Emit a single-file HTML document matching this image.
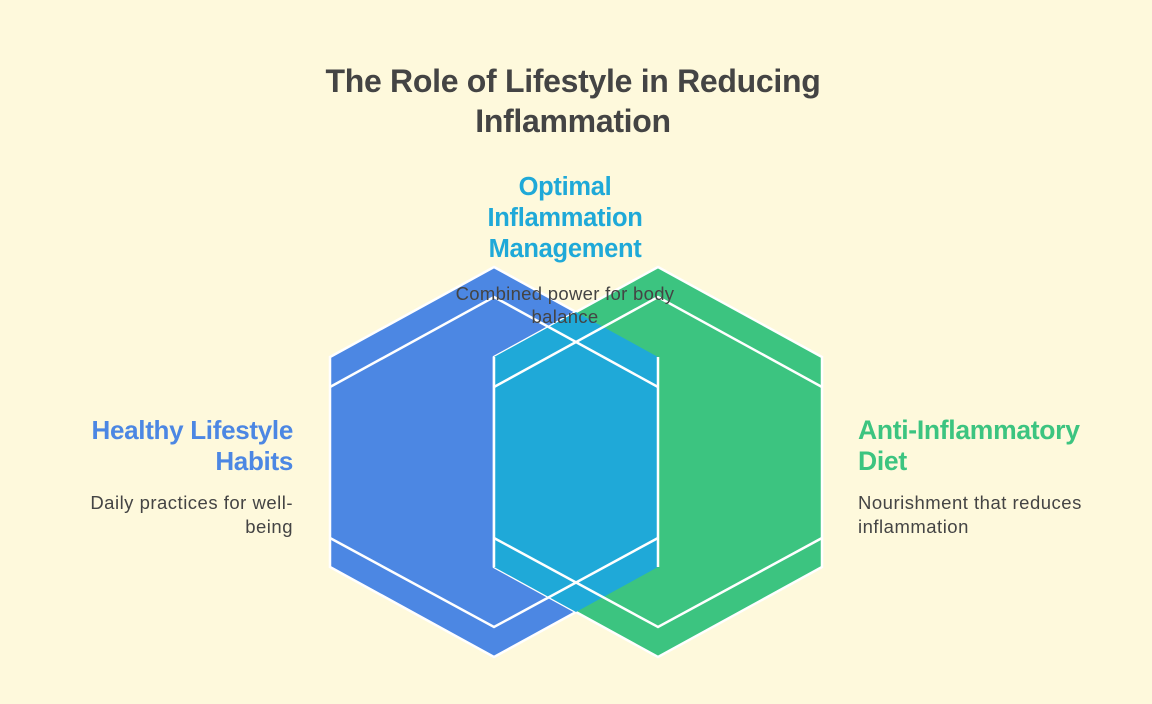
<!DOCTYPE html>
<html><head><style>
body{margin:0;width:1152px;height:704px;background:#FEF9DC;position:relative;overflow:hidden;font-family:"Liberation Sans",sans-serif}
.t{position:absolute;white-space:nowrap}
</style></head><body>
<svg width="1152" height="704" style="position:absolute;left:0;top:0">
<polygon points="494,267 658,357 658,567 494,657 330,567 330,357" fill="#4C87E3" stroke="#fff" stroke-width="2.5"/>
<polygon points="658,267 822,357 822,567 658,657 494,567 494,357" fill="#3CC480" stroke="#fff" stroke-width="2.5"/>
<polygon points="576,312 658,357 658,567 576,612 494,567 494,357" fill="#1FA9D8"/>
<g fill="none" stroke="#fff" stroke-width="2.5">
<polyline points="330,387 494,297 658,387"/>
<polyline points="330,538 494,627 658,538"/>
<polyline points="494,387 658,297 822,387"/>
<polyline points="494,538 658,627 822,538"/>
<line x1="494" y1="357" x2="494" y2="567"/>
<line x1="658" y1="357" x2="658" y2="567"/>
</g>
</svg>
<div class="t" style="left:0;width:1146px;top:61px;text-align:center;font-size:32px;font-weight:bold;color:#444;line-height:40px;letter-spacing:-0.3px">The Role of Lifestyle in Reducing<br>Inflammation</div>
<div class="t" style="left:415px;width:300px;top:172px;text-align:center;font-size:25.5px;font-weight:bold;color:#1FA9D8;line-height:31px;letter-spacing:-0.3px">Optimal<br>Inflammation<br>Management</div>
<div class="t" style="left:415px;width:300px;top:282px;text-align:center;font-size:18.5px;color:#444;line-height:23px;letter-spacing:0.3px">Combined power for body<br>balance</div>
<div class="t" style="left:0;width:293px;top:415px;text-align:right;font-size:26px;font-weight:bold;color:#4C87E3;line-height:31px;letter-spacing:-0.3px">Healthy Lifestyle<br>Habits</div>
<div class="t" style="left:0;width:293px;top:491px;text-align:right;font-size:18.5px;color:#444;line-height:24px;letter-spacing:0.5px">Daily practices for well-<br>being</div>
<div class="t" style="left:858px;top:415px;font-size:26.5px;font-weight:bold;color:#3CC480;line-height:31px;letter-spacing:-0.3px">Anti-Inflammatory<br>Diet</div>
<div class="t" style="left:858px;top:491px;font-size:18.5px;color:#444;line-height:24px;letter-spacing:0.5px">Nourishment that reduces<br>inflammation</div>
</body></html>
